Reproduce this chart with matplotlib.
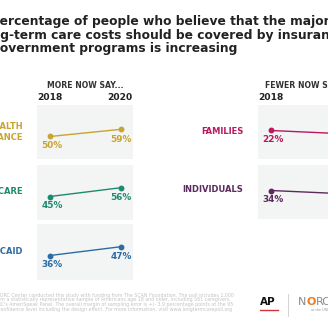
import matplotlib
matplotlib.use("Agg")
import matplotlib.pyplot as plt

W = H = 328

years = ["2018", "2020"]
more_labels = ["HEALTH\nINSURANCE", "MEDICARE", "MEDICAID"]
more_2018 = [50, 45, 36]
more_2020 = [59, 56, 47]
more_colors = ["#c9a431", "#1d8a6e", "#2c6ca4"]

fewer_labels = ["FAMILIES", "INDIVIDUALS"]
fewer_2018 = [22, 34]
fewer_2020 = [18, 30]
fewer_colors = ["#b8195f", "#5c2a5c"]

title_lines = [
    "The percentage of people who believe that the majority",
    "of long-term care costs should be covered by insurance",
    "and government programs is increasing",
]
footer_lines = [
    "The AP-NORC Center conducted this study with funding from The SCAN Foundation. The poll includes 1,000",
    "adults from a statistically representative sample of Americans age 18 and older, including 561 caregivers,",
    "from NORC's AmeriSpeak Panel. The overall margin of sampling error is +/- 3.9 percentage points at the 95",
    "percent confidence level including the design effect. For more information, visit www.longtermcarepoll.org",
]

fig = plt.figure(figsize=(W / 100, H / 100), dpi=100)
fig.patch.set_facecolor("white")
r = fig.canvas.get_renderer()


def fx(x):
    return x / W


def fy(y):
    return 1 - y / H


def panel(x0, y0, w, h, v1, v2, color, off):
    ax = fig.add_axes([fx(x0), fy(y0 + h), w / W, h / H])
    ax.set_facecolor("#f3f4f4")
    for s in ax.spines.values():
        s.set_visible(False)
    ax.set_xticks([])
    ax.set_yticks([])
    ax.set_xlim(-13 / 71, 1 + 12 / 71)
    sc = 0.8
    top = v1 + off / sc
    ax.set_ylim(top - h / sc, top)
    ax.plot([0, 1], [v1, v2], color=color, lw=1.0, marker="o", ms=3.2)
    ax.annotate(f"{v1}%", (0, v1), xytext=(2, -9), textcoords="offset pixels",
                ha="center", va="center", color=color, fontsize=6.4, fontweight="bold")
    ax.annotate(f"{v2}%", (1, v2), xytext=(0, -10), textcoords="offset pixels",
                ha="center", va="center", color=color, fontsize=6.4, fontweight="bold")
    return ax


# title, clipped on the left like the reference
tsize = 8.8
t0 = fig.text(0, 0, "The p", fontsize=tsize, fontweight="bold")
shift = t0.get_window_extent(r).width
t0.remove()
for i, line in enumerate(title_lines):
    fig.text(fx(-shift), fy(22 + i * 13.3), line, fontsize=tsize, fontweight="bold",
             color="#222222", va="center", ha="left")

# headers
box_w = 96
for x0, head in [(37, "MORE NOW SAY..."), (258, "FEWER NOW SAY...")]:
    fig.text(fx(x0 + box_w / 2), fy(86), head, fontsize=5.6, fontweight="bold",
             color="#333333", ha="center", va="center")
    fig.text(fx(x0), fy(98), years[0], fontsize=6.6, fontweight="bold",
             color="#222222", ha="left", va="center")
    fig.text(fx(x0 + box_w), fy(98), years[1], fontsize=6.6, fontweight="bold",
             color="#222222", ha="right", va="center")

left_rows = [(105, 54), (165, 55), (224, 56)]
label_y = [132, 191, 251]
for i in range(3):
    y0, h = left_rows[i]
    panel(37, y0, box_w, h, more_2018[i], more_2020[i], more_colors[i], 31.5)
    fig.text(fx(23), fy(label_y[i]), more_labels[i], fontsize=6, fontweight="bold",
             color=more_colors[i], ha="right", va="center", multialignment="right",
             linespacing=1.25)

right_rows = [(105, 54), (165, 54)]
rlabel_y = [132, 190]
for i in range(2):
    y0, h = right_rows[i]
    panel(258, y0, box_w, h, fewer_2018[i], fewer_2020[i], fewer_colors[i], 25.5)
    fig.text(fx(243), fy(rlabel_y[i]), fewer_labels[i], fontsize=6, fontweight="bold",
             color=fewer_colors[i], ha="right", va="center")

# footer note
t0 = fig.text(0, 0, footer_lines[0], fontsize=3.4)
fw = t0.get_window_extent(r).width
t0.remove()
for i, line in enumerate(footer_lines):
    fig.text(fx(234 - fw), fy(295 + i * 4.7), line, fontsize=3.4, color="#c4c4c4",
             ha="left", va="center")

# logos
fig.text(fx(260), fy(302), "AP", fontsize=7.5, fontweight="bold", color="#111111",
         ha="left", va="center")
fig.add_artist(plt.Line2D([fx(260), fx(278)], [fy(310), fy(310)], color="#d0343a", lw=1.0))
fig.add_artist(plt.Line2D([fx(288), fx(288)], [fy(294), fy(316)], color="#cccccc", lw=0.6))
fig.text(fx(298), fy(302), "N", fontsize=8, color="#8a8a8a", ha="left", va="center")
fig.text(fx(306.5), fy(302), "O", fontsize=8, color="#ee7d22", ha="left", va="center",
         fontweight="bold")
fig.text(fx(316), fy(302), "RC", fontsize=8, color="#8a8a8a", ha="left", va="center")
fig.text(fx(311), fy(310), "at the UNIVERSITY OF CHICAGO", fontsize=2.4, color="#999999",
         ha="left", va="center")

fig.savefig("out.png", dpi=100, facecolor="white")
